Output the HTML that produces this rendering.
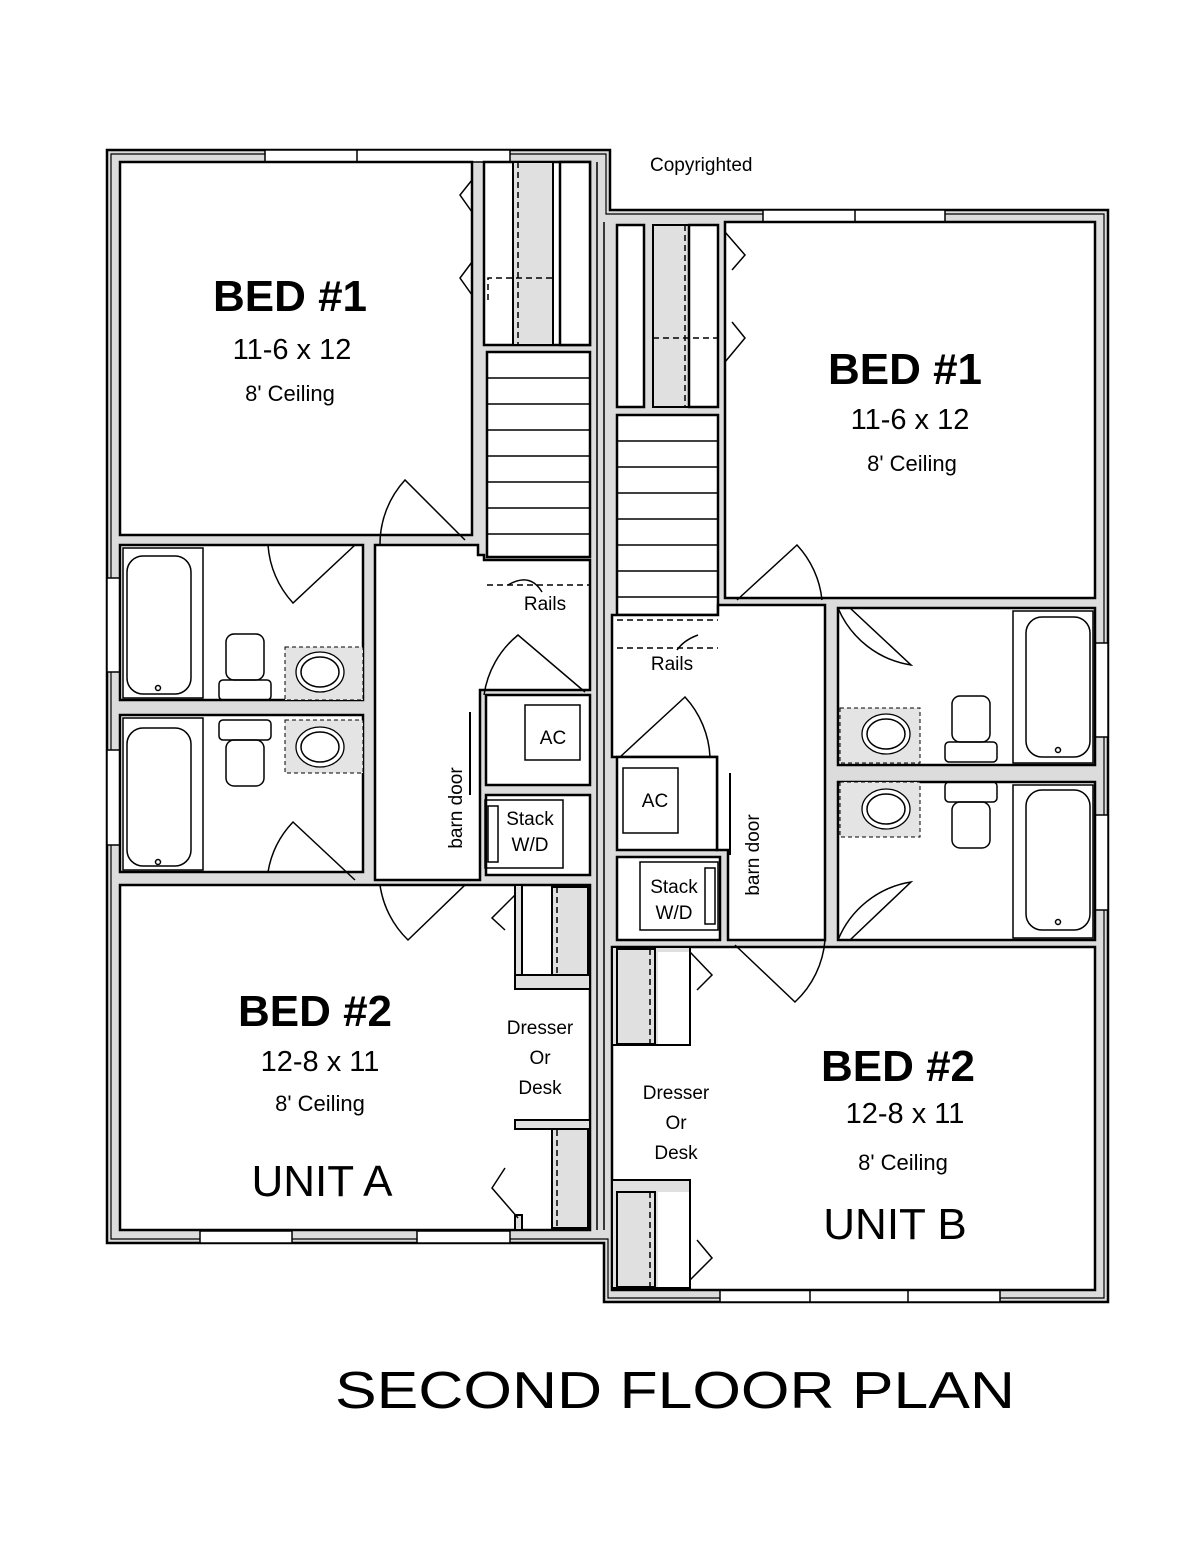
<!DOCTYPE html>
<html><head><meta charset="utf-8"><style>
html,body{margin:0;padding:0;background:#fff}
svg{display:block}
text{font-family:"Liberation Sans",sans-serif;fill:#000}
.r{fill:#fff;stroke:#000;stroke-width:2.5}
.g{fill:#e0e0e0;stroke:#000;stroke-width:2}
.l{fill:none;stroke:#000;stroke-width:1.5}
.d{fill:none;stroke:#000;stroke-width:1.5;stroke-dasharray:6 4}
.dr{fill:#fff;stroke:#000;stroke-width:1.3}
</style></head><body>
<svg width="1200" height="1548" viewBox="0 0 1200 1548" xmlns="http://www.w3.org/2000/svg">
<polygon points="107,150 610,150 610,210 1108,210 1108,1302 604,1302 604,1243 107,1243" fill="#dcdcdc" stroke="#000" stroke-width="2.5"/>
<polygon points="111,154 606,154 606,214 1104,214 1104,1298 608,1298 608,1239 111,1239" fill="none" stroke="#000" stroke-width="1.2"/>
<g fill="#fff" stroke="#000" stroke-width="1.5">
<rect x="265" y="150" width="245" height="12"/><rect x="200" y="1231" width="92" height="12"/><rect x="417" y="1231" width="93" height="12"/>
<rect x="107" y="578" width="13" height="94"/><rect x="107" y="750" width="13" height="95"/>
<rect x="763" y="210" width="182" height="12"/><rect x="720" y="1290" width="280" height="12"/>
<rect x="1095" y="643" width="13" height="94"/><rect x="1095" y="815" width="13" height="95"/>
</g>
<line x1="357" y1="150" x2="357" y2="162" class="l"/><line x1="855" y1="210" x2="855" y2="222" class="l"/><line x1="810" y1="1290" x2="810" y2="1302" class="l"/><line x1="908" y1="1290" x2="908" y2="1302" class="l"/>
<line x1="597" y1="162" x2="597" y2="1230" class="l"/><line x1="604" y1="222" x2="604" y2="1230" class="l"/>

<!-- UNIT A rooms -->
<rect class="r" x="120" y="162" width="352" height="373"/>
<rect class="r" x="484" y="162" width="106" height="183"/>
<rect class="g" x="513" y="162" width="40" height="183"/>
<rect class="r" x="560" y="162" width="30" height="183"/>
<line x1="518" y1="162" x2="518" y2="345" class="d"/>
<polyline points="488,300 488,278 553,278" class="d"/>
<rect class="r" x="487" y="352" width="103" height="205"/>
<g class="l"><line x1="487" y1="378" x2="590" y2="378"/><line x1="487" y1="404" x2="590" y2="404"/><line x1="487" y1="430" x2="590" y2="430"/><line x1="487" y1="456" x2="590" y2="456"/><line x1="487" y1="482" x2="590" y2="482"/><line x1="487" y1="508" x2="590" y2="508"/><line x1="487" y1="534" x2="590" y2="534"/></g>
<polygon class="r" points="375,545 478,545 478,555 484,555 484,560 590,560 590,690 480,690 480,880 375,880"/>
<line x1="487" y1="560" x2="590" y2="560" class="d"/><line x1="487" y1="585" x2="590" y2="585" class="d"/>
<rect class="r" x="120" y="545" width="243" height="155"/>
<rect class="r" x="120" y="715" width="243" height="157"/>
<rect class="r" x="486" y="695" width="104" height="90"/>
<rect class="r" x="486" y="795" width="104" height="80"/>
<rect class="r" x="120" y="885" width="470" height="345"/>
<!-- A closets -->
<rect class="g" x="515" y="885" width="7" height="90"/>
<rect class="g" x="515" y="975" width="75" height="14"/>
<rect class="g" x="552" y="887" width="36" height="88"/>
<line x1="557" y1="887" x2="557" y2="975" class="d"/>
<rect class="g" x="515" y="1120" width="75" height="9"/>
<rect class="g" x="515" y="1215" width="7" height="15"/>
<rect class="g" x="552" y="1129" width="36" height="99"/>
<line x1="557" y1="1130" x2="557" y2="1228" class="d"/>

<!-- UNIT B rooms -->
<rect class="r" x="725" y="222" width="370" height="376"/>
<rect class="r" x="617" y="225" width="27" height="182"/>
<rect class="g" x="653" y="225" width="36" height="182"/>
<rect class="r" x="689" y="225" width="29" height="182"/>
<line x1="685" y1="225" x2="685" y2="407" class="d"/>
<polyline points="653,338 718,338 718,360" class="d"/>
<rect class="r" x="617" y="415" width="101" height="200"/>
<g class="l"><line x1="617" y1="441" x2="718" y2="441"/><line x1="617" y1="467" x2="718" y2="467"/><line x1="617" y1="493" x2="718" y2="493"/><line x1="617" y1="519" x2="718" y2="519"/><line x1="617" y1="545" x2="718" y2="545"/><line x1="617" y1="571" x2="718" y2="571"/><line x1="617" y1="597" x2="718" y2="597"/></g>
<polygon class="r" points="617,615 718,615 718,605 825,605 825,940 728,940 728,850 717,850 717,757 612,757 612,615"/>
<line x1="617" y1="620" x2="718" y2="620" class="d"/><line x1="617" y1="648" x2="718" y2="648" class="d"/>
<rect class="r" x="838" y="608" width="257" height="157"/>
<rect class="r" x="838" y="782" width="257" height="158"/>
<rect class="r" x="617" y="757" width="100" height="93"/>
<rect class="r" x="617" y="857" width="103" height="83"/>
<rect class="r" x="612" y="947" width="483" height="343"/>
<polygon class="g" points="612,947 690,947 690,1045 612,1045"/>
<rect class="g" x="617" y="949" width="38" height="95"/>
<line x1="650" y1="949" x2="650" y2="1044" class="d"/>
<polygon class="g" points="612,1180 690,1180 690,1288 612,1288"/>
<rect class="g" x="617" y="1192" width="38" height="95"/>
<line x1="650" y1="1192" x2="650" y2="1287" class="d"/>
<rect fill="#fff" x="618" y="1055" width="70" height="124"/>
<rect fill="#fff" x="658" y="952" width="31" height="92"/>
<rect fill="#fff" x="658" y="1192" width="31" height="95"/>
<rect fill="#fff" x="523" y="888" width="28" height="86"/>
<rect fill="#fff" x="523" y="1130" width="28" height="84"/>

<!-- bath fixtures A -->
<g class="l">
<rect x="123" y="548" width="80" height="150"/><rect x="127" y="556" width="64" height="138" rx="16"/><circle cx="158" cy="688" r="2.5"/>
<rect x="123" y="718" width="80" height="152"/><rect x="127" y="728" width="64" height="138" rx="16"/><circle cx="158" cy="862" r="2.5"/>
<rect x="226" y="634" width="38" height="46" rx="8"/><rect x="219" y="680" width="52" height="20" rx="4"/>
<rect x="219" y="720" width="52" height="20" rx="4"/><rect x="226" y="740" width="38" height="46" rx="8"/>
</g>
<rect x="285" y="647" width="78" height="53" fill="#e4e4e4" stroke="#000" stroke-dasharray="4 3"/>
<ellipse cx="320" cy="672" rx="24" ry="20" class="dr"/><ellipse cx="320" cy="672" rx="19" ry="15" class="l"/>
<rect x="285" y="720" width="78" height="53" fill="#e4e4e4" stroke="#000" stroke-dasharray="4 3"/>
<ellipse cx="320" cy="747" rx="24" ry="20" class="dr"/><ellipse cx="320" cy="747" rx="19" ry="15" class="l"/>
<!-- bath fixtures B -->
<g class="l">
<rect x="1013" y="611" width="80" height="152"/><rect x="1026" y="617" width="64" height="140" rx="16"/><circle cx="1058" cy="750" r="2.5"/>
<rect x="1013" y="785" width="80" height="153"/><rect x="1026" y="790" width="64" height="140" rx="16"/><circle cx="1058" cy="922" r="2.5"/>
<rect x="952" y="696" width="38" height="46" rx="8"/><rect x="945" y="742" width="52" height="20" rx="4"/>
<rect x="945" y="782" width="52" height="20" rx="4"/><rect x="952" y="802" width="38" height="46" rx="8"/>
</g>
<rect x="840" y="708" width="80" height="55" fill="#e4e4e4" stroke="#000" stroke-dasharray="4 3"/>
<ellipse cx="886" cy="734" rx="24" ry="20" class="dr"/><ellipse cx="886" cy="734" rx="19" ry="15" class="l"/>
<rect x="840" y="782" width="80" height="55" fill="#e4e4e4" stroke="#000" stroke-dasharray="4 3"/>
<ellipse cx="886" cy="809" rx="24" ry="20" class="dr"/><ellipse cx="886" cy="809" rx="19" ry="15" class="l"/>

<!-- appliances -->
<rect x="525" y="705" width="55" height="55" class="l"/>
<rect x="485" y="800" width="78" height="68" class="l"/><rect x="488" y="806" width="10" height="56" class="l"/>
<rect x="623" y="768" width="55" height="65" class="l"/>
<rect x="640" y="862" width="78" height="68" class="l"/><rect x="705" y="868" width="10" height="56" class="l"/>
<line x1="470" y1="712" x2="470" y2="795" stroke="#000" stroke-width="2"/>
<line x1="730" y1="773" x2="730" y2="855" stroke="#000" stroke-width="2"/>

<!-- doors -->
<g class="l">
<path d="M268,545 A95,95 0 0 0 293,603 L355,545"/>
<path d="M268,872 A95,95 0 0 1 293,822 L355,880"/>
<path d="M380,545 A95,95 0 0 1 405,480 L465,540"/>
<path d="M380,885 A95,95 0 0 0 408,940 L465,885"/>
<path d="M484,695 A95,95 0 0 1 518,635 L585,692"/>
<polyline points="472,180 460,195 472,212"/><polyline points="472,262 460,278 472,295"/>
<polyline points="515,895 492,918 505,930"/><polyline points="518,1218 492,1188 505,1168"/>
<polyline points="690,952 712,975 697,990"/><polyline points="690,1280 712,1258 697,1240"/>
<polyline points="725,232 745,255 732,270"/><polyline points="725,362 745,338 732,322"/>
<path d="M822,600 A95,95 0 0 0 797,545 L737,600"/>
<path d="M838,608 A95,95 0 0 0 911,665 L850,608"/>
<path d="M838,940 A95,95 0 0 1 911,882 L850,940"/>
<path d="M825,940 A95,95 0 0 1 795,1002 L735,945"/>
<path d="M710,757 A95,95 0 0 0 685,697 L620,757"/>
<path d="M508,585 Q530,572 542,592"/><path d="M698,635 Q684,640 677,650"/>
</g>

<!-- text -->
<text x="650" y="171" font-size="19">Copyrighted</text>
<g font-weight="bold" font-size="44">
<text x="290" y="311" text-anchor="middle">BED #1</text>
<text x="905" y="384" text-anchor="middle">BED #1</text>
<text x="315" y="1026" text-anchor="middle">BED #2</text>
<text x="898" y="1081" text-anchor="middle">BED #2</text>
</g>
<g font-size="44">
<text x="322" y="1196" text-anchor="middle">UNIT A</text>
<text x="895" y="1239" text-anchor="middle">UNIT B</text>
</g>
<g font-size="29" text-anchor="middle">
<text x="292" y="359">11-6 x 12</text><text x="910" y="429">11-6 x 12</text>
<text x="320" y="1071">12-8 x 11</text><text x="905" y="1123">12-8 x 11</text>
</g>
<g font-size="22" text-anchor="middle">
<text x="290" y="401">8' Ceiling</text><text x="912" y="471">8' Ceiling</text>
<text x="320" y="1111">8' Ceiling</text><text x="903" y="1170">8' Ceiling</text>
</g>
<g font-size="19" text-anchor="middle">
<text x="540" y="1034">Dresser</text><text x="540" y="1064">Or</text><text x="540" y="1094">Desk</text>
<text x="676" y="1099">Dresser</text><text x="676" y="1129">Or</text><text x="676" y="1159">Desk</text>
<text x="545" y="610">Rails</text><text x="672" y="670">Rails</text>
<text x="553" y="744">AC</text><text x="655" y="807">AC</text>
<text x="530" y="825">Stack</text><text x="530" y="851">W/D</text>
<text x="674" y="893">Stack</text><text x="674" y="919">W/D</text>
<text transform="translate(462,808) rotate(-90)">barn door</text>
<text transform="translate(759,855) rotate(-90)">barn door</text>
</g>
<text x="335" y="1408" font-size="52" textLength="680" lengthAdjust="spacingAndGlyphs">SECOND FLOOR PLAN</text>
</svg>
</body></html>
